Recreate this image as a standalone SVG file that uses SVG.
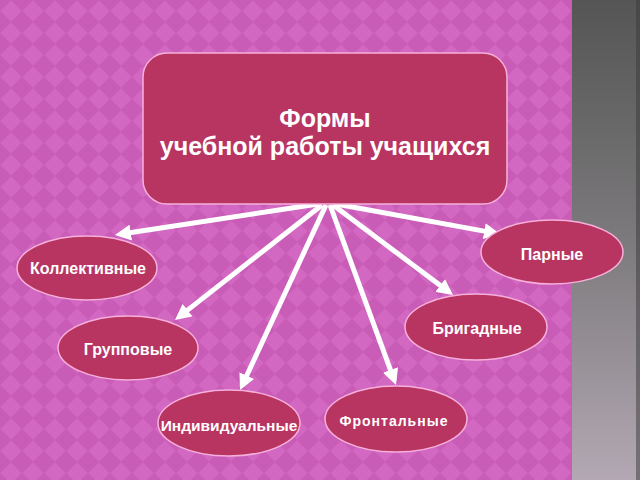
<svg xmlns="http://www.w3.org/2000/svg" width="640" height="480" viewBox="0 0 640 480">
<defs>
<pattern id="dia" x="0" y="0" width="22" height="22" patternUnits="userSpaceOnUse">
<rect width="22" height="22" fill="#c95cb7"/>
<path d="M11,0.5 L21.5,11 L11,21.5 L0.5,11 Z" fill="#d268c2"/>
</pattern>
<linearGradient id="gray" x1="0" y1="0" x2="0" y2="1">
<stop offset="0" stop-color="#555555"/>
<stop offset="0.5" stop-color="#7c7a7c"/>
<stop offset="1" stop-color="#b3a8b3"/>
</linearGradient>
<marker id="ah" viewBox="0 0 16 16" markerUnits="userSpaceOnUse" markerWidth="16" markerHeight="16" refX="11" refY="8" orient="auto">
<path d="M0,0 L16,8 L0,16 Z" fill="#ffffff"/>
</marker>
<style>
.node{fill:#b83461;stroke:#f7b0dc;stroke-width:1.5}
.lbl{font-family:"Liberation Sans",Arial,sans-serif;font-weight:bold;font-size:16px;fill:#ffffff;text-anchor:middle}
.title{font-family:"Liberation Sans",Arial,sans-serif;font-weight:bold;font-size:25px;fill:#ffffff;text-anchor:middle}
.conn{stroke:#ffffff;stroke-width:5;fill:none;marker-end:url(#ah)}
</style>
</defs>
<rect width="640" height="480" fill="url(#dia)"/>
<rect x="572" y="0" width="68" height="480" fill="url(#gray)"/>
<rect x="636" y="0" width="4" height="480" fill="#3a3a3a" opacity="0.5"/>
<g id="connectors">
<line class="conn" x1="318" y1="204" x2="119.9" y2="234.2"/>
<line class="conn" x1="322" y1="205" x2="178.9" y2="316.9"/>
<line class="conn" x1="326" y1="205" x2="242.1" y2="385.5"/>
<line class="conn" x1="330" y1="205" x2="394.3" y2="380.3"/>
<line class="conn" x1="333" y1="205" x2="449" y2="292"/>
<line class="conn" x1="336" y1="204" x2="495.1" y2="233.1"/>
</g>
<g id="main">
<rect class="node" x="143" y="53" width="364" height="151" rx="24" ry="24"/>
<text class="title" x="325" y="127">Формы</text>
<text class="title" x="325" y="155">учебной работы учащихся</text>
</g>
<g id="kollektivnye">
<ellipse class="node" cx="87" cy="268" rx="70" ry="32"/>
<text class="lbl" x="88" y="274">Коллективные</text>
</g>
<g id="gruppovye">
<ellipse class="node" cx="128" cy="348" rx="70" ry="32"/>
<text class="lbl" x="128" y="355">Групповые</text>
</g>
<g id="individualnye">
<ellipse class="node" cx="229" cy="423" rx="71" ry="33"/>
<text class="lbl" x="229" y="431" style="font-size:15.5px">Индивидуальные</text>
</g>
<g id="frontalnye">
<ellipse class="node" cx="396" cy="419" rx="71" ry="33"/>
<text class="lbl" x="394" y="426" style="font-size:14px" letter-spacing="1">Фронтальные</text>
</g>
<g id="brigadnye">
<ellipse class="node" cx="476" cy="327" rx="71" ry="33"/>
<text class="lbl" x="477" y="334">Бригадные</text>
</g>
<g id="parnye">
<ellipse class="node" cx="552" cy="252" rx="71" ry="32"/>
<text class="lbl" x="552" y="260">Парные</text>
</g>
</svg>
